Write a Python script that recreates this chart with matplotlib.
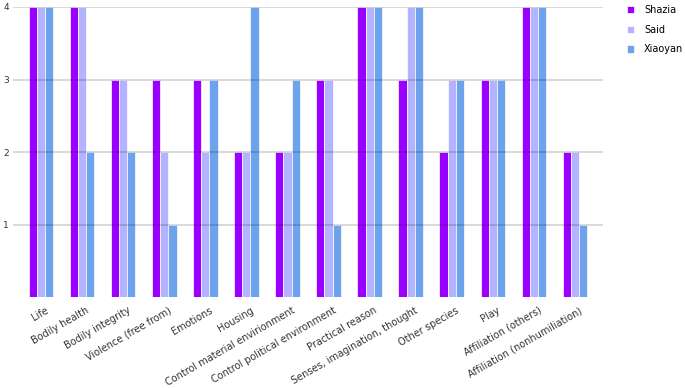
import numpy as np
import matplotlib.pyplot as plt
from matplotlib.transforms import ScaledTranslation

categories = ["Life", "Bodily health", "Bodily integrity", "Violence (free from)",
              "Emotions", "Housing", "Control material envirionment",
              "Control political environment", "Practical reason",
              "Senses, imagination, thought", "Other species", "Play",
              "Affiliation (others)", "Affiliation (nonhumiliation)"]
shazia = [4, 4, 3, 3, 3, 2, 2, 3, 4, 3, 2, 3, 4, 2]
said = [4, 4, 3, 2, 2, 2, 2, 3, 4, 4, 3, 3, 4, 2]
xiaoyan = [4, 2, 2, 1, 3, 4, 3, 1, 4, 4, 3, 3, 4, 1]

names = ["Shazia", "Said", "Xiaoyan"]
colors = ["#9900ff", "#b3b3ff", "#6ca3ec"]

fig = plt.figure(figsize=(6.85, 3.88), dpi=100)
ax = fig.add_axes([13/685, 91/388, 590/685, 290/388])

x = np.arange(len(categories))
w = 0.2
for i, (vals, name, c) in enumerate(zip([shazia, said, xiaoyan], names, colors)):
    ax.bar(x + (i - 1) * w, vals, w, color=c, edgecolor="white", linewidth=0.5,
           label=name, zorder=2)

ax.set_xlim(-0.68, len(categories) - 1 + 0.68)
ax.set_ylim(0, 4)
ax.set_yticks([1, 2, 3, 4])
ax.yaxis.grid(True, color="black", alpha=0.15, linewidth=1.4, zorder=3)
ax.set_axisbelow(False)
for s in ax.spines.values():
    s.set_visible(False)
ax.tick_params(axis="y", length=0, pad=3, labelsize=6.5, labelcolor="#333333")
ax.tick_params(axis="x", length=0, pad=6, labelsize=7, labelcolor="#333333")
ax.set_xticks(x)
ax.set_xticklabels(categories, rotation=30, ha="right", rotation_mode="anchor")
offset = ScaledTranslation(4/100, 0, fig.dpi_scale_trans)
for lab in ax.get_xticklabels():
    lab.set_transform(lab.get_transform() + offset)

ax.legend(loc="upper left", bbox_to_anchor=(627/685, 1 - 5/388),
          bbox_transform=fig.transFigure, frameon=False, fontsize=7,
          handlelength=0.75, handleheight=0.75, handletextpad=1.0,
          labelspacing=1.0, borderpad=0, borderaxespad=0)

fig.savefig("out.png", dpi=100)
